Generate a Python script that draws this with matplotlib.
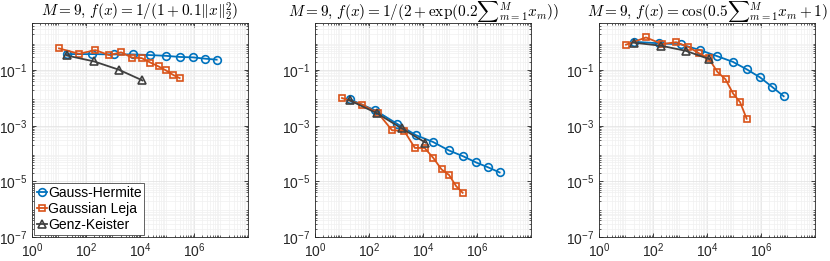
import numpy as np
import matplotlib
matplotlib.use("Agg")
import matplotlib.pyplot as plt
import matplotlib.transforms as mtransforms
from matplotlib.ticker import LogLocator, NullFormatter, FixedLocator, FuncFormatter

plt.rcParams['font.family'] = ['Liberation Sans', 'DejaVu Sans']
plt.rcParams['mathtext.fontset'] = 'cm'

titles = [r'$M=9,\,f(x)=1/(1+0.1\|x\|_2^2)$',
          r'$M=9,\,f(x)=1/(2+\exp(0.2{\sum}_{m=1}^M x_m))$',
          r'$M=9,\,f(x)=\cos(0.5{\sum}_{m=1}^M x_m+1)$']
labels = ['Gauss-Hermite', 'Gaussian Leja', 'Genz-Keister']

# number of points
n_gh = [19, 170, 1070, 5500, 24000, 91000, 300000, 930000, 2.6e6, 6.9e6]
n_leja = [10, 55, 220, 715, 2002, 5005, 11440, 24310, 48620, 92378, 167960, 293930]
n_gk = [19, 200, 1620, 12300]

# errors, panel 1
e1_gh = [0.38, 0.38, 0.37, 0.37, 0.35, 0.33, 0.30, 0.29, 0.26, 0.24]
e1_leja = [0.61, 0.39, 0.53, 0.35, 0.44, 0.285, 0.273, 0.188, 0.137, 0.098, 0.068, 0.052]
e1_gk = [0.34, 0.207, 0.105, 0.043]
# panel 2
e2_gh = [9.1e-3, 3.6e-3, 1.2e-3, 4.6e-4, 2.6e-4, 1.3e-4, 8.1e-5, 4.8e-5, 3.2e-5, 2.1e-5]
e2_leja = [1.0e-2, 5.8e-3, 2.8e-3, 6.9e-4, 6.6e-4, 1.6e-4, 1.6e-4, 6.9e-5, 2.7e-5, 1.7e-5, 6.8e-6, 3.9e-6]
e2_gk = [8.3e-3, 2.8e-3, 8.1e-4, 2.5e-4]
# panel 3
e3_gh = [1.06, 0.93, 0.85, 0.53, 0.32, 0.20, 0.107, 0.055, 0.025, 0.0116]
e3_leja = [0.83, 1.51, 0.87, 1.02, 0.69, 0.41, 0.27, 0.087, 0.047, 0.0145, 0.0071, 0.0018]
e3_gk = [0.98, 0.76, 0.50, 0.25]

data = [(e1_gh, e1_leja, e1_gk), (e2_gh, e2_leja, e2_gk), (e3_gh, e3_leja, e3_gk)]

c_blue = '#0072BD'
c_orange = '#D95319'
c_gray = '#404040'

fig = plt.figure(figsize=(8.30, 2.61), dpi=100)
lefts = [32/830, 315/830, 599/830]
w = 216/830
b = 1 - 237/261
h = 214/261

def fmt(v, pos):
    e = int(round(np.log10(v)))
    return r'$\mathregular{10^{%d}}$' % e

for i, (gh, lj, gk) in enumerate(data):
    ax = fig.add_axes([lefts[i], b, w, h])
    ax.loglog(n_gh, gh, '-o', color=c_blue, mfc='none', ms=5.5, lw=1.3, mew=1.2, label=labels[0])
    ax.loglog(n_leja, lj, '-s', color=c_orange, mfc='none', ms=5, lw=1.3, mew=1.2, label=labels[1])
    ax.loglog(n_gk, gk, '-^', color=c_gray, mfc='none', ms=6, lw=1.3, mew=1.2, label=labels[2])
    ax.set_xlim(1, 1e8)
    ax.set_ylim(1e-7, 5)
    ax.xaxis.set_major_locator(FixedLocator([1, 1e2, 1e4, 1e6]))
    ax.yaxis.set_major_locator(FixedLocator([1e-7, 1e-5, 1e-3, 1e-1]))
    ax.xaxis.set_minor_locator(LogLocator(base=10, subs=np.arange(2, 10), numticks=20))
    ax.yaxis.set_minor_locator(LogLocator(base=10, subs=np.arange(2, 10), numticks=20))
    ax.xaxis.set_minor_formatter(NullFormatter())
    ax.yaxis.set_minor_formatter(NullFormatter())
    ax.xaxis.set_major_formatter(FuncFormatter(fmt))
    ax.yaxis.set_major_formatter(FuncFormatter(fmt))
    ax.tick_params(which='both', direction='in', top=True, right=True, colors='#262626', labelsize=10)
    ax.tick_params(which='major', length=3, width=0.6)
    ax.tick_params(which='minor', length=1.5, width=0.5)
    ax.grid(True, which='major', color='#e0e0e0', lw=0.5)
    ax.grid(True, which='minor', color='#f0f0f0', lw=0.5)
    ax.set_axisbelow(True)
    for s in ax.spines.values():
        s.set_color('#262626')
        s.set_linewidth(0.6)
    tr = mtransforms.offset_copy(ax.transAxes, fig=fig, x=0, y=6, units='dots')
    ax.text(0.5, 1.0, titles[i], transform=tr, ha='center', va='baseline', fontsize=11)
    if i == 0:
        leg = ax.legend(loc='lower left', fontsize=10, handlelength=0.7, handletextpad=0.1,
                        borderpad=0.2, labelspacing=0.15, borderaxespad=0.15, fancybox=False,
                        framealpha=1, edgecolor='#262626')
        leg.get_frame().set_linewidth(0.5)

fig.savefig('out.png', dpi=100)
